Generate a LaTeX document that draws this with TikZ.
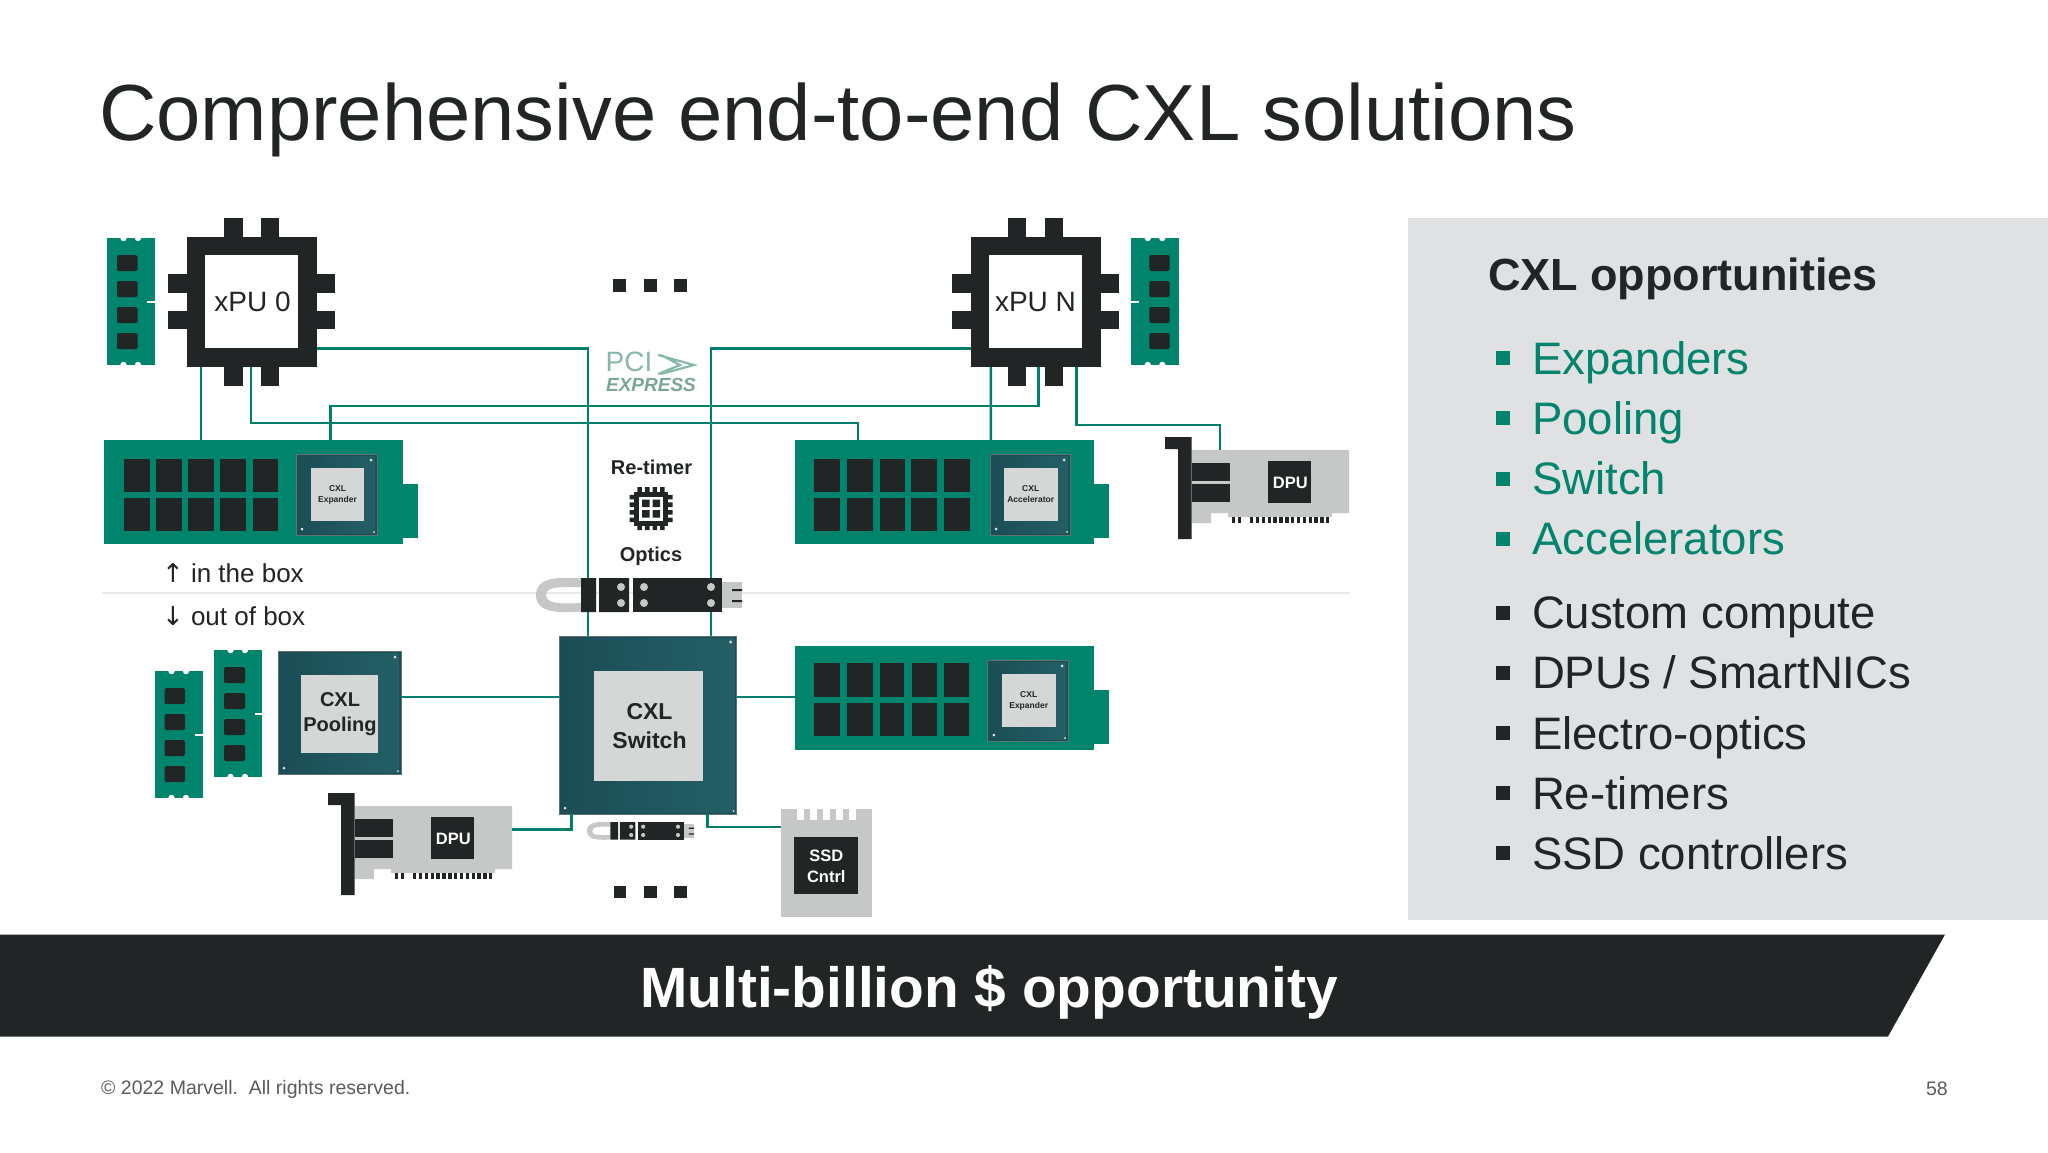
\documentclass[tikz,border=0pt]{standalone}
\usepackage{fontspec}
\setmainfont{Liberation Sans}
\newfontfamily\arrowfont{DejaVu Sans}
\definecolor{ink}{HTML}{222525}
\definecolor{tealg}{HTML}{00846B}
\definecolor{linkc}{HTML}{00806C}
\definecolor{chipd}{HTML}{1B4D55}
\definecolor{chipm}{HTML}{245F66}
\definecolor{chipl}{HTML}{D5D6D6}
\definecolor{cardg}{HTML}{C6C8C8}
\definecolor{panel}{HTML}{DFE1E2}
\definecolor{pcic}{HTML}{86B8AC}
\newcommand{\fs}[1]{\fontsize{#1}{#1}\selectfont}
\newcommand{\blk}[6]{% name x1 y1 x2 y2 color
  \pgfmathsetlengthmacro{\bw}{(#4-#2)*1pt}\pgfmathsetlengthmacro{\bh}{(#5-#3)*1pt}
  \node[fill=#6,inner sep=0pt,outer sep=0pt,minimum width=\bw,minimum height=\bh,anchor=north west] (#1) at (#2,#3) {};}
\newcommand{\rr}[5]{\fill[#5] (#1,#2) rectangle (#3,#4);}
% ram: name, x, y, chip x1, chip x2, notch x
\newcommand{\ram}[6]{%
  \blk{#1}{#2}{#3}{#2+48}{#3+127}{tealg}
  \foreach \dx in {16.5,31}{\fill[white] (#2+\dx,#3) circle (3.2); \fill[white] (#2+\dx,#3+127) circle (3.2);}
  \foreach \cy in {17,43,69,95}{\fill[ink,rounded corners=1.5pt] (#2+#4,#3+\cy) rectangle (#2+#5,#3+\cy+16);}
  \fill[white] (#2+#6,#3+62.5) rectangle +(8,2.5);}
% teal chip: name x1 y1 x2 y2 ix1 iy1 ix2 iy2
\newcommand{\xchip}[9]{%
  \blk{#1}{#2}{#3}{#4}{#5}{chipd}
  \shade[left color=chipd,right color=chipm] (#2+2,#3+2) rectangle (#4-2,#5-2);
  \draw[gray!70!chipd,line width=1pt] (#2,#3) rectangle (#4,#5);
  \fill[chipl] (#6,#7) rectangle (#8,#9);
  \fill[white!85!chipd] (#4-6,#3+6) circle (1.5) (#2+6,#5-6) circle (1.5) (#4-3,#5-3) circle (1);}
\newcommand{\memcard}[4]{% name x y right
  \blk{#1}{#2}{#3}{#4}{#3+104}{tealg}
  \fill[tealg] (#4,#3+44) rectangle (#4+15,#3+98);
  }
\newcommand{\pcie}[3]{% name, x of bracket plate (left), y top
  \begin{scope}[shift={(#2,#3)}]
  \fill[cardg] (26.5,13) -- (184,13) -- (184,76) -- (167,76) -- (167,80) -- (63,80) -- (63,76) -- (46,76) -- (46,86) -- (26.5,86) -- cycle;
  \blk{#1}{103}{24}{145.5}{66}{ink}
  \node[text=white,font=\bfseries\fs{16.5},xshift=1pt,yshift=-1.2pt] at (#1.center) {DPU};
  \fill[ink] (0,0) -- (26.5,0) -- (26.5,102) -- (13,102) -- (13,12) -- (0,12) -- cycle;
  \rr{26.5}{26}{65}{44}{ink}
  \rr{26.5}{47}{65}{65}{ink}
  \foreach \i in {0,1}{\rr{67+\i*6}{80}{67+\i*6+3.4}{86}{ink}}
  \foreach \i in {0,...,13}{\rr{85+\i*5.85}{80}{85+\i*5.85+3.4}{86}{ink}}
  \end{scope}}
\newcommand{\optics}[4]{% name x y scale
  \begin{scope}[shift={(#2,#3)},scale=#4]
  \fill[cardg,even odd rule] (45,0.5) .. controls (15,-2) and (0,2) .. (0,17) .. controls (0,32) and (15,36) .. (45,33.5) -- (45,25) .. controls (25,26) and (10,26) .. (10,17) .. controls (10,8) and (25,9) .. (45,9) -- cycle;
  \fill[cardg] (186,4) rectangle (206,30);
  \fill[ink] (196,11) rectangle (206,13.2) (196,22) rectangle (206,24.2);
  \node[fill=ink,inner sep=0pt,minimum width=89pt*#4,minimum height=34pt*#4,anchor=north west] (#1) at (97,0) {};
  \fill[ink] (45,0) rectangle (60,34) (63,0) rectangle (93,34);
  \fill[cardg] (85,9) circle (4) (85,25) circle (4) (108,9) circle (4) (108,25) circle (4) (175,9) circle (4) (175,25) circle (4);
  \end{scope}}
\tikzset{link/.style={draw=linkc,line width=2.4pt,line join=miter},
 lab/.style={text=ink,inner sep=0pt,outer sep=0pt}}
\begin{document}
\begin{tikzpicture}[x=1pt,y=-1pt]
\useasboundingbox (0,0) rectangle (2048,1152);
\fill[white] (0,0) rectangle (2048,1152);
\node[lab,anchor=base west,font=\fs{79.6}] (title) at (99,140.5) {Comprehensive end-to-end CXL solutions};
% panel
\node[fill=panel,inner sep=0pt,minimum width=640pt,minimum height=702pt,anchor=north west] (panelbox) at (1408,218) {};
\node[lab,anchor=base west,font=\bfseries\fs{45}] (opp) at (1488,290) {CXL opportunities};
\foreach \yy/\tx/\nm in {374/Expanders/a,434/Pooling/b,494.5/Switch/c,554.5/Accelerators/d}{
  \fill[tealg] (1496,\yy-23) rectangle +(14,14);
  \node[anchor=base west,text=tealg,inner sep=0pt,font=\fs{45.5}] (li\nm) at (1532,\yy) {\tx};}
\foreach \yy/\tx/\nm in {628.5/{Custom compute}/e,688.5/{DPUs / SmartNICs}/f,749/{Electro-optics}/g,809/{Re-timers}/h,869/{SSD controllers}/i}{
  \fill[ink] (1496,\yy-23) rectangle +(14,14);
  \node[lab,anchor=base west,font=\fs{45.5}] (li\nm) at (1532,\yy) {\tx};}
% banner
\fill[ink] (0,934.5) -- (1945,934.5) -- (1888,1036.5) -- (0,1036.5) -- cycle;
\node[text=white,inner sep=0pt,font=\bfseries\fs{56.8}] (banner) at (989,992.5) {Multi-billion \$ opportunity};
\node[anchor=west,inner sep=0pt,text=ink!75,font=\fs{19.5}] (copy) at (101,1089) {© 2022 Marvell.\ \ All rights reserved.};
\node[anchor=east,inner sep=0pt,text=ink!75,font=\fs{19.5}] (pg) at (1948,1089) {58};
% divider
\coordinate (divl) at (102,593); \coordinate (divr) at (1350,593);
\draw[black!9,line width=1.2pt] (divl) -- (divr);
\node[lab,anchor=west,font=\fs{26}] (inbox) at (162,573.5) {\makebox[29pt][l]{\arrowfont ↑}in the box};
\node[lab,anchor=west,font=\fs{26}] (outbox) at (162,616) {\makebox[29pt][l]{\arrowfont ↓}out of box};
% xPU
\blk{xpu0}{187}{237}{317}{367}{ink}
\foreach \a/\b in {224/243,261/279}{\rr{\a}{218}{\b}{386}{ink}}
\foreach \a/\b in {274/293,311/329}{\rr{168}{\a}{335}{\b}{ink}}
\node[fill=white,inner sep=0pt,minimum width=93pt,minimum height=93pt,font=\fs{28},text=ink] (xpu0core) at (251.5,301.5) {\hspace{2pt}xPU 0};
\blk{xpuN}{970.6}{237}{1100.6}{367}{ink}
\foreach \a/\b in {1007.7/1026,1044.8/1063}{\rr{\a}{218}{\b}{386}{ink}}
\foreach \a/\b in {274/293,311/329}{\rr{951.8}{\a}{1118.7}{\b}{ink}}
\node[fill=white,inner sep=0pt,minimum width=93pt,minimum height=93pt,font=\fs{28},text=ink] (xpuNcore) at (1035.5,301.5) {xPU N};
% RAM
\ram{ram0}{107}{238}{10}{30.5}{40}
\ram{ramN}{1131.3}{238}{18}{38.3}{0}
\ram{ramA}{155}{671}{9.5}{30}{40}
\ram{ramB}{214}{650}{10}{31}{41}
% memory cards
\memcard{expA}{104}{440}{403}
\foreach \a/\b in {124/150,156/182,188/214,220/246,253/278}{\rr{\a}{459}{\b}{492}{ink}\rr{\a}{498}{\b}{531}{ink}}
\xchip{expAchip}{296}{454}{377}{535}{311}{468}{364}{521}
\node[lab,font=\bfseries\fs{8.5},align=center,text=ink] (expAt) at (337.5,494.5) {CXL\\[2.5pt]Expander};
\memcard{acc}{795}{440}{1094}
\foreach \a/\b in {814.4/840,847/872.6,879.5/905,911/937,943.8/969.8}{\rr{\a}{459}{\b}{492}{ink}\rr{\a}{498}{\b}{531}{ink}}
\xchip{accchip}{990}{454}{1070}{535}{1003.9}{468}{1057.5}{521}
\node[lab,font=\bfseries\fs{8.5},align=center] (acct) at (1030.7,494.5) {CXL\\[2.5pt]Accelerator};
\memcard{expB}{795}{646}{1094}
\foreach \a/\b in {814/840,847/872.6,879.5/904,911.6/937,943.7/969}{\rr{\a}{663}{\b}{697}{ink}\rr{\a}{703}{\b}{736}{ink}}
\xchip{expBchip}{987.8}{660}{1068}{741}{1001.5}{674}{1055.5}{727}
\node[lab,font=\bfseries\fs{8.5},align=center] (expBt) at (1028.7,700.5) {CXL\\[2.5pt]Expander};
% pooling + switch
\xchip{pool}{278}{651}{401}{774}{301}{675}{378}{753}
\node[lab,font=\bfseries\fs{20},align=center] (poolt) at (340,714.5) {CXL\\[5pt]Pooling};
\xchip{sw}{559}{636}{736.7}{814}{593.6}{671}{702.6}{781}
\node[lab,font=\bfseries\fs{23},align=center] (swt) at (649.5,726) {CXL\\[6pt]Switch};
% cards
\pcie{dpuA}{1165}{437}
\pcie{dpuB}{328}{793}
% ssd
\blk{ssd}{781}{808.5}{871.5}{917}{cardg}
\foreach \i in {0,...,4}{\fill[white] (797+\i*13,808) rectangle +(6.6,12);}
\blk{ssdc}{794}{837}{858.4}{894}{ink}
\node[text=white,inner sep=0pt,font=\bfseries\fs{16.5},align=center] (ssdt) at (826.3,866.5) {SSD\\[5pt]Cntrl};
% dots
\foreach \x in {613,644,674}{\fill[ink] (\x,279) rectangle +(12.7,12.7);}
\foreach \x in {613.5,644,674.3}{\fill[ink] (\x,886) rectangle +(12.7,12);}
% links
\coordinate (dpuAtop) at (1220,450);
\coordinate (dpuBend) at (512,829.5);
\draw[link] ([xshift=14pt]xpu0.south west) -- ([xshift=97pt]expA.north west);
\draw[link] ([xshift=64pt]xpu0.south west) |- (857.7,423) -- ([xshift=62.7pt]acc.north west);
\draw[link] ([xshift=226.5pt]expA.north west) |- (1038.3,406) -- ([xshift=67.7pt]xpuN.south west);
\draw[link] ([xshift=20.3pt]xpuN.south west) -- ([xshift=195.9pt]acc.north west);
\draw[link] ([yshift=18.5pt]xpu0.south east) -| ([xshift=29pt]sw.north west);
\draw[link] ([yshift=18.5pt]xpuN.south west) -| ([xshift=152pt]sw.north west);
\draw[link] ([xshift=106pt]xpuN.south west) |- (1220,425) -- (dpuAtop);
\draw[link] (pool.east |- 0,697) -- (sw.west |- 0,697);
\draw[link] (sw.east |- 0,697) -- (expB.west |- 0,697);
\draw[link] (dpuBend) -| ([xshift=12.4pt]sw.south west);
\draw[link] ([xshift=148.6pt]sw.south west) |- (ssd.west |- 0,827);
% re-timer, optics
\node[lab,font=\bfseries\fs{20},xshift=0.5pt] (ret) at (651,467) {Re-timer};
\node[lab,font=\bfseries\fs{20}] (opt) at (651,556) {Optics};
\begin{scope}[shift={(651,508.5)}]
\foreach \i in {-1.5,-0.5,0.5,1.5}{
  \fill[ink] (\i*7.6-2.3,-21.5) rectangle +(4.6,43) (-21.5,\i*7.6-2.3) rectangle +(43,4.6);}
\fill[ink] (-17,-17) rectangle (17,17);
\fill[white] (-12,-12) rectangle (12,12);
\fill[ink] (-9,-9) rectangle (-1.5,-1.5) (1.5,-9) rectangle (9,-1.5) (-9,1.5) rectangle (-1.5,9) (1.5,1.5) rectangle (9,9);
\end{scope}
\optics{optA}{536}{578}{1}
\optics{optB}{587}{822}{0.52}
% pci logo
\node[text=pcic,inner sep=0pt,font=\fs{28}] (pci) at (629,361.5) {PCI};
\node[text=pcic!90!black,inner sep=0pt,font=\bfseries\itshape\fs{19}] (pcix) at (651,385) {EXPRESS};
\draw[pcic,line width=2.2pt] (658,355) -- (694,365) -- (661,374) (661,355) -- (680,365) -- (658,374);
\end{tikzpicture}
\end{document}
